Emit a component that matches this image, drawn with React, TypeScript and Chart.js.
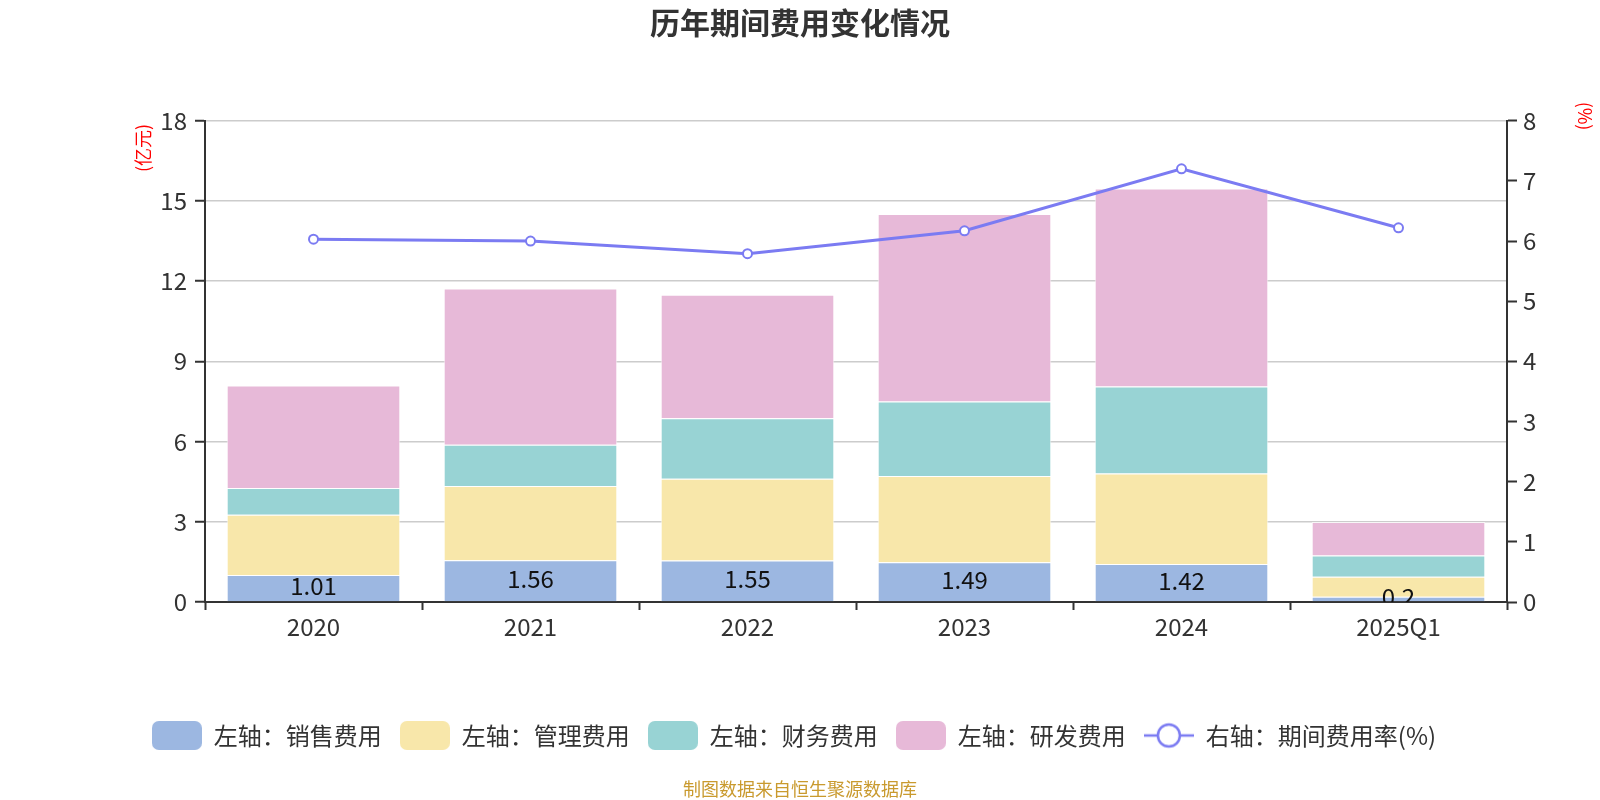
import React, { useEffect, useRef } from "react";
import { Chart, registerables } from "chart.js";

Chart.register(...registerables);

const categories = ["2020", "2021", "2022", "2023", "2024", "2025Q1"];
const salesExpense = [1.01, 1.56, 1.55, 1.49, 1.42, 0.2];
const adminExpense = [2.25, 2.78, 3.06, 3.22, 3.39, 0.74];
const financeExpense = [1.0, 1.54, 2.26, 2.79, 3.25, 0.8];
const rdExpense = [3.84, 5.84, 4.62, 7.01, 7.4, 1.25];
const expenseRate = [6.03, 6.0, 5.79, 6.17, 7.2, 6.22];
const leftTicks = [0, 3, 6, 9, 12, 15, 18];
const rightTicks = [0, 1, 2, 3, 4, 5, 6, 7, 8];

const seriesNames = ["左轴：销售费用", "左轴：管理费用", "左轴：财务费用", "左轴：研发费用", "右轴：期间费用率(%)"];
const colors = ["#9CB7E1", "#F8E7AA", "#98D3D4", "#E7B9D8", "#7B7BF2"];

const FONT = '"Noto Sans CJK SC", "Noto Sans", sans-serif';

function makeBoxIcon(color: string) {
  const c = document.createElement("canvas");
  c.width = 50;
  c.height = 29;
  const ctx = c.getContext("2d")!;
  ctx.fillStyle = color;
  ctx.beginPath();
  (ctx as any).roundRect(0, 0, 50, 29, 7);
  ctx.fill();
  return c;
}

function makeLineIcon(color: string) {
  const c = document.createElement("canvas");
  c.width = 50;
  c.height = 28;
  const ctx = c.getContext("2d")!;
  ctx.strokeStyle = color;
  ctx.lineWidth = 2.5;
  ctx.beginPath();
  ctx.moveTo(0, 14);
  ctx.lineTo(50, 14);
  ctx.stroke();
  ctx.beginPath();
  ctx.arc(25, 14, 11, 0, Math.PI * 2);
  ctx.fillStyle = "#fff";
  ctx.fill();
  ctx.stroke();
  return c;
}

const extrasPlugin = {
  id: "extras",
  afterLayout(chart: any) {
    if (chart.legend) {
      chart.legend.left -= 6;
      chart.legend.right -= 6;
    }
  },
  afterDatasetsDraw(chart: any) {
    const { ctx, chartArea } = chart;
    const meta = chart.getDatasetMeta(0);
    ctx.save();
    ctx.beginPath();
    ctx.rect(chartArea.left, chartArea.top, chartArea.right - chartArea.left, chartArea.bottom - chartArea.top);
    ctx.clip();
    ctx.font = `24px ${FONT}`;
    ctx.fillStyle = "#111";
    ctx.textAlign = "center";
    ctx.textBaseline = "middle";
    meta.data.forEach((el: any, i: number) => {
      const y = (el.y + el.base) / 2 - 2;
      ctx.fillText(String(salesExpense[i]), el.x, y);
    });
    ctx.restore();
  },
  afterDraw(chart: any) {
    const { ctx } = chart;
    ctx.save();
    ctx.fillStyle = "#FF0000";
    ctx.font = `18px ${FONT}`;
    ctx.textAlign = "center";
    ctx.textBaseline = "middle";
    ctx.save();
    ctx.translate(143.5, 148);
    ctx.rotate(-Math.PI / 2);
    ctx.fillText("(亿元)", 0, 0);
    ctx.restore();
    ctx.save();
    ctx.translate(1585, 116);
    ctx.rotate(Math.PI / 2);
    ctx.fillText("(%)", 0, 0);
    ctx.restore();
    ctx.fillStyle = "#C99A2E";
    ctx.font = `18px ${FONT}`;
    ctx.fillText("制图数据来自恒生聚源数据库", 800, 789);
    ctx.restore();
  },
};

export default function App() {
  const canvasRef = useRef<HTMLCanvasElement | null>(null);

  useEffect(() => {
    if (!canvasRef.current) return;
    const barData = [salesExpense, adminExpense, financeExpense, rdExpense];
    const icons = [
      makeBoxIcon(colors[0]),
      makeBoxIcon(colors[1]),
      makeBoxIcon(colors[2]),
      makeBoxIcon(colors[3]),
      makeLineIcon(colors[4]),
    ];
    const chart = new Chart(canvasRef.current, {
      type: "bar",
      data: {
        labels: categories,
        datasets: [
          ...barData.map((d, i) => ({
            type: "bar" as const,
            label: seriesNames[i],
            data: d,
            backgroundColor: colors[i],
            borderColor: "rgba(255,255,255,0.7)",
            borderWidth: 1,
            yAxisID: "y",
            stack: "s",
            barPercentage: 0.8,
            categoryPercentage: 1,
            order: 1,
          })),
          {
            type: "line" as const,
            label: seriesNames[4],
            data: expenseRate,
            borderColor: colors[4],
            backgroundColor: "#fff",
            borderWidth: 3,
            pointRadius: 4.5,
            pointBorderWidth: 2,
            pointBackgroundColor: "#fff",
            pointBorderColor: colors[4],
            tension: 0,
            yAxisID: "y1",
            order: 0,
          },
        ],
      },
      options: {
        animation: false,
        responsive: true,
        maintainAspectRatio: false,
        layout: { padding: { left: 0, right: 0, top: 0, bottom: 42.5 } },
        plugins: {
          title: {
            display: true,
            text: "历年期间费用变化情况",
            color: "#333",
            font: { family: FONT, size: 30, weight: "bold", lineHeight: 1.2 },
            padding: { top: 5, bottom: 79.7 },
          },
          legend: {
            display: true,
            position: "bottom",
            labels: {
              usePointStyle: true,
              pointStyleWidth: 50,
              padding: 18,
              color: "#333",
              font: { family: FONT, size: 24 },
              generateLabels: () =>
                seriesNames.map((name, i) => ({
                  text: name,
                  pointStyle: icons[i],
                  fillStyle: colors[i],
                  strokeStyle: colors[i],
                  lineWidth: 1,
                  hidden: false,
                  datasetIndex: i,
                  fontColor: "#333",
                })),
            },
          },
          tooltip: { enabled: false },
        },
        scales: {
          x: {
            stacked: true,
            offset: true,
            grid: {
              display: true,
              drawOnChartArea: false,
              drawTicks: true,
              tickLength: 8,
              tickColor: "#333",
              tickWidth: 2,
              offset: true,
            },
            border: { display: true, color: "#333", width: 2 },
            ticks: {
              color: "#333",
              font: { family: FONT, size: 24 },
              padding: 2,
              maxRotation: 0,
              autoSkip: false,
            },
            afterFit: (scale: any) => {
              scale.height = 103.5;
            },
          },
          y: {
            stacked: true,
            position: "left",
            min: 0,
            max: 18,
            afterBuildTicks: (scale: any) => {
              scale.ticks = leftTicks.map((v) => ({ value: v }));
            },
            grid: {
              color: "#CCCCCC",
              lineWidth: 1.5,
              tickColor: "#333",
              tickLength: 10,
              tickWidth: 2,
            },
            border: { display: true, color: "#333", width: 2 },
            ticks: {
              color: "#333",
              font: { family: FONT, size: 24 },
              padding: 8,
            },
            afterFit: (scale: any) => {
              scale.width = 205;
            },
          },
          y1: {
            position: "right",
            min: 0,
            max: 8,
            afterBuildTicks: (scale: any) => {
              scale.ticks = rightTicks.map((v) => ({ value: v }));
            },
            grid: {
              drawOnChartArea: false,
              tickColor: "#333",
              tickLength: 10,
              tickWidth: 2,
            },
            border: { display: true, color: "#333", width: 2 },
            ticks: {
              color: "#333",
              font: { family: FONT, size: 24 },
              padding: 6,
            },
            afterFit: (scale: any) => {
              scale.width = 93;
            },
          },
        },
      },
      plugins: [extrasPlugin],
    } as any);
    return () => chart.destroy();
  }, []);

  return (
    <div style={{ position: "fixed", left: 0, top: 0, width: 1600, height: 800, background: "#fff" }}>
      <canvas ref={canvasRef} />
    </div>
  );
}
